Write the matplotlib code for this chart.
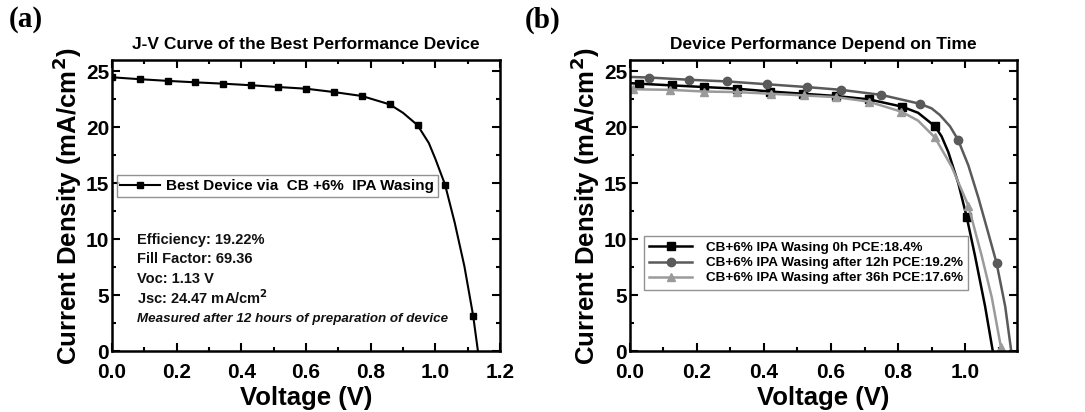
import numpy as np
import matplotlib
matplotlib.use("Agg")
import matplotlib.pyplot as plt
from matplotlib.ticker import MultipleLocator

plt.rcParams['font.family'] = ['Liberation Sans', 'DejaVu Sans']
plt.rcParams['font.weight'] = 'bold'

# (a) best device: marker points and extra points
best_mv = [0.0, 0.086, 0.172, 0.258, 0.344, 0.430, 0.515, 0.601, 0.687, 0.773, 0.859, 0.945, 1.030, 1.117]
best_mj = [24.47, 24.30, 24.15, 24.02, 23.90, 23.76, 23.60, 23.45, 23.15, 22.80, 22.05, 20.20, 14.90, 3.20]
best_lv = [0.90, 0.98, 1.00, 1.06, 1.09, 1.132]
best_lj = [21.30, 18.60, 17.20, 11.50, 7.60, 0.0]

# (b) time dependence
t0_mv = [0.026, 0.124, 0.222, 0.320, 0.419, 0.517, 0.615, 0.713, 0.812, 0.910, 1.005]
t0_mj = [23.90, 23.75, 23.60, 23.45, 23.20, 23.00, 22.80, 22.50, 21.85, 20.10, 12.00]
t0_lv = [0.0, 0.86, 0.93, 0.95, 0.98, 1.03, 1.06, 1.083]
t0_lj = [23.95, 21.30, 19.20, 17.80, 15.00, 8.50, 4.00, 0.0]

t12_mv = [0.057, 0.176, 0.290, 0.408, 0.527, 0.630, 0.750, 0.866, 0.979, 1.094]
t12_mj = [24.45, 24.25, 24.10, 23.85, 23.60, 23.35, 22.90, 22.10, 18.90, 7.90]
t12_lv = [0.0, 0.90, 0.925, 0.955, 1.01, 1.04, 1.07, 1.12, 1.138]
t12_lj = [24.50, 21.70, 21.10, 20.10, 16.60, 13.70, 10.50, 4.00, 0.0]

t36_mv = [0.010, 0.120, 0.220, 0.320, 0.420, 0.520, 0.615, 0.712, 0.810, 0.910, 1.010, 1.107]
t36_mj = [23.40, 23.35, 23.20, 23.15, 23.00, 22.85, 22.70, 22.30, 21.40, 19.10, 13.00, 0.40]
t36_lv = [0.0, 0.86, 0.96, 1.05, 1.08, 1.115]
t36_lj = [23.45, 20.60, 16.50, 8.50, 4.80, 0.0]

labels_b = ["CB+6% IPA Wasing 0h PCE:18.4%",
            "CB+6% IPA Wasing after 12h PCE:19.2%",
            "CB+6% IPA Wasing after 36h PCE:17.6%"]


def merge(mv, mj, lv, lj):
    v = np.array(mv + lv)
    j = np.array(mj + lj)
    order = np.argsort(v)
    is_mark = np.array([True] * len(mv) + [False] * len(lv))[order]
    return v[order], j[order], list(np.where(is_mark)[0])


def style_axes(ax, xmax, title):
    ax.set_xlim(0, xmax)
    ax.set_ylim(0, 26)
    ax.xaxis.set_major_locator(MultipleLocator(0.2))
    ax.xaxis.set_minor_locator(MultipleLocator(0.1))
    ax.yaxis.set_major_locator(MultipleLocator(5))
    ax.yaxis.set_minor_locator(MultipleLocator(2.5))
    ax.tick_params(which='both', direction='in', top=True, right=True,
                   labeltop=False, labelright=False, width=1.5)
    ax.tick_params(which='major', length=6, labelsize=15, pad=2)
    ax.tick_params(axis='x', which='major', pad=8)
    ax.tick_params(which='minor', length=3)
    for s in ax.spines.values():
        s.set_linewidth(1.8)
    ax.set_xlabel("Voltage (V)", fontsize=18.5, fontweight='bold', labelpad=3)
    ax.set_ylabel("Current Density (mA/cm$^\\mathbf{2}$)", fontsize=18.5,
                  fontweight='bold', labelpad=1)
    ax.set_title(title, fontsize=12.5, fontweight='bold', pad=8)
    for lab in ax.get_xticklabels() + ax.get_yticklabels():
        lab.set_fontweight('bold')


fig = plt.figure(figsize=(10.85, 4.12), dpi=100)
ax1 = fig.add_axes([0.1032, 0.147, 0.3576, 0.707])
ax2 = fig.add_axes([0.5806, 0.147, 0.3567, 0.707])

v, j, me = merge(best_mv, best_mj, best_lv, best_lj)
ax1.plot(v, j, color='black', lw=1.5, marker='s', ms=5, markevery=me,
         label="Best Device via  CB +6%  IPA Wasing")
style_axes(ax1, 1.2, "J-V Curve of the Best Performance Device")
leg1 = ax1.legend(loc='upper left', bbox_to_anchor=(0.012, 0.605), fancybox=False,
                  edgecolor='#777777', prop={'weight': 'bold', 'size': 11},
                  handlelength=2.6, borderpad=0.25, handletextpad=0.4,
                  borderaxespad=0)
leg1.get_frame().set_linewidth(1.0)

info = ["Efficiency: 19.22%", "Fill Factor: 69.36", "Voc: 1.13 V",
        "Jsc: 24.47 mA/cm$^\\mathbf{2}$"]
for k, s in enumerate(info):
    ax1.text(0.065, 0.384 - 0.067 * k, s, transform=ax1.transAxes, fontsize=10.5,
             fontweight='bold', va='center', ha='left', color='#111111')
ax1.text(0.065, 0.113, "Measured after 12 hours of preparation of device",
         transform=ax1.transAxes, fontsize=9.6, fontweight='bold', style='italic',
         va='center', ha='left', color='#111111')

series = [(t0_mv, t0_mj, t0_lv, t0_lj, 's', '#000000', 6),
          (t12_mv, t12_mj, t12_lv, t12_lj, 'o', '#5a5a5a', 6),
          (t36_mv, t36_mj, t36_lv, t36_lj, '^', '#9a9a9a', 6)]
for (mv, mj, lv, lj, mk, col, ms), lab in zip(series, labels_b):
    v, j, me = merge(mv, mj, lv, lj)
    ax2.plot(v, j, color=col, lw=1.8, marker=mk, ms=ms, markevery=me, label=lab)
style_axes(ax2, 1.155, "Device Performance Depend on Time")
leg2 = ax2.legend(loc='upper left', bbox_to_anchor=(0.036, 0.395), fancybox=False,
                  edgecolor='#777777', prop={'weight': 'bold', 'size': 9.7},
                  handlelength=3.2, borderpad=0.4, handletextpad=1.0,
                  labelspacing=0.2, borderaxespad=0)
leg2.get_frame().set_linewidth(1.0)

fig.text(0.008, 0.985, "(a)", fontsize=21, fontweight='bold', va='top', ha='left',
         family=['Liberation Serif', 'DejaVu Serif'])
fig.text(0.484, 0.985, "(b)", fontsize=21, fontweight='bold', va='top', ha='left',
         family=['Liberation Serif', 'DejaVu Serif'])

fig.savefig("out.png", dpi=100)
